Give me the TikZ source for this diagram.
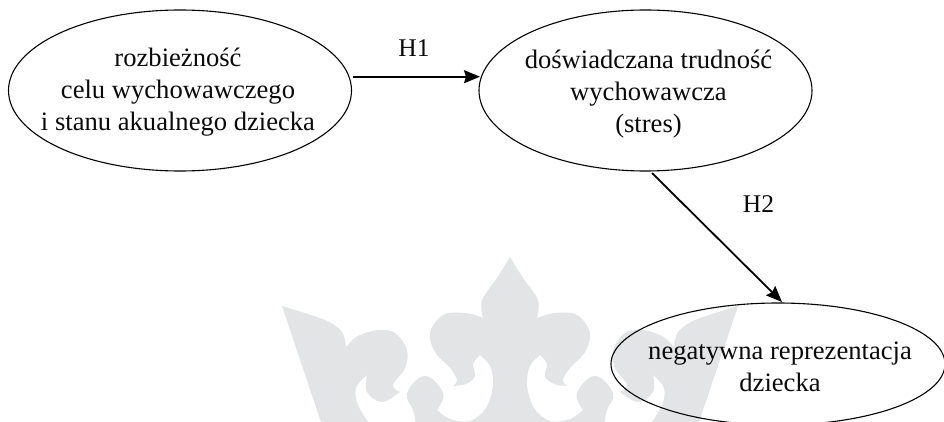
\documentclass[tikz,border=0pt]{standalone}
\usepackage{fontspec}
\setmainfont{Liberation Serif}
\usetikzlibrary{shapes.geometric,arrows.meta}
\definecolor{crown}{HTML}{E3E4E5}
\definecolor{ink}{HTML}{0A0A0A}
\tikzset{
  ell/.style={draw=black,ellipse,line width=1.1pt,inner sep=0pt,outer sep=0pt},
  txt/.style={font=\fontsize{26.6}{32}\selectfont,align=center,text=ink,inner sep=0pt,outer sep=0pt},
  conn/.style={draw=black,line width=1.8pt,-{Stealth[length=16pt,width=13pt,inset=2pt]}},
  hlab/.style={font=\fontsize{25.5}{28}\selectfont,text=ink,inner sep=0pt}
}
\newcommand{\crownhalf}{%
  plot[smooth,tension=0.55] coordinates {(510,257) (497,278) (482,300) (483,318)}
  -- plot[smooth,tension=0.6] coordinates {(483,318) (465,313) (443,315) (430,333) (435,352) (450,368) (457,380) (453,386)}
  -- plot[smooth,tension=0.6] coordinates {(453,386) (466,384) (475,376) (473,364) (480,355)}
  -- plot[smooth,tension=0.6] coordinates {(480,355) (490,366) (493,385) (486,408) (470,421) (450,419) (437,410)}
  -- plot[smooth,tension=0.7] coordinates {(437,410) (443,393) (425,376) (407,393) (413,410) (416,425)}
  -- (370,425)
  -- plot[smooth,tension=0.6] coordinates {(370,425) (358,405) (356,388) (367,375)}
  -- plot[smooth,tension=0.6] coordinates {(367,375) (367,392) (382,402) (400,392)}
  -- plot[smooth,tension=0.6] coordinates {(400,392) (393,385) (405,368) (407,350) (395,333) (378,330) (358,336) (346,347)}
  -- plot[smooth,tension=0.5] coordinates {(346,347) (342,332) (325,320) (282,306)}
  -- (322,425) -- (322,440) -- (510,440) -- cycle}
\begin{document}
\begin{tikzpicture}[x=1pt,y=-1pt]
\useasboundingbox (0,0) rectangle (944,422);
\clip (0,0) rectangle (944,422);
\fill[crown] \crownhalf;
\begin{scope}[xshift=1020pt,xscale=-1]
\fill[crown] \crownhalf;
\end{scope}
\node[ell,minimum width=343pt,minimum height=161pt,
  label={[txt,xshift=-2pt,yshift=-1.5pt]center:rozbieżność\\celu wychowawczego\\i stanu akualnego dziecka}] (e1) at (180,90.5) {};
\node[ell,minimum width=333pt,minimum height=161pt,
  label={[txt,xshift=3pt,yshift=-4pt]center:doświadczana trudność\\wychowawcza\\(stres)}] (e2) at (645.5,90.5) {};
\node[ell,minimum width=334pt,minimum height=122pt,
  label={[txt,xshift=2pt,yshift=-2.5pt]center:negatywna reprezentacja\\dziecka}] (e3) at (778,364) {};
\draw[conn] ([xshift=1pt,yshift=13.8pt]e1.east) -- ([xshift=1pt,yshift=13.8pt]e2.west);
\draw[conn] ([xshift=6.5pt,yshift=-2pt]e2.south) -- ([xshift=4pt,yshift=1pt]e3.north);
\node[hlab] (h1) at (414,48) {H1};
\node[hlab] (h2) at (758.5,204) {H2};
\end{tikzpicture}
\end{document}
